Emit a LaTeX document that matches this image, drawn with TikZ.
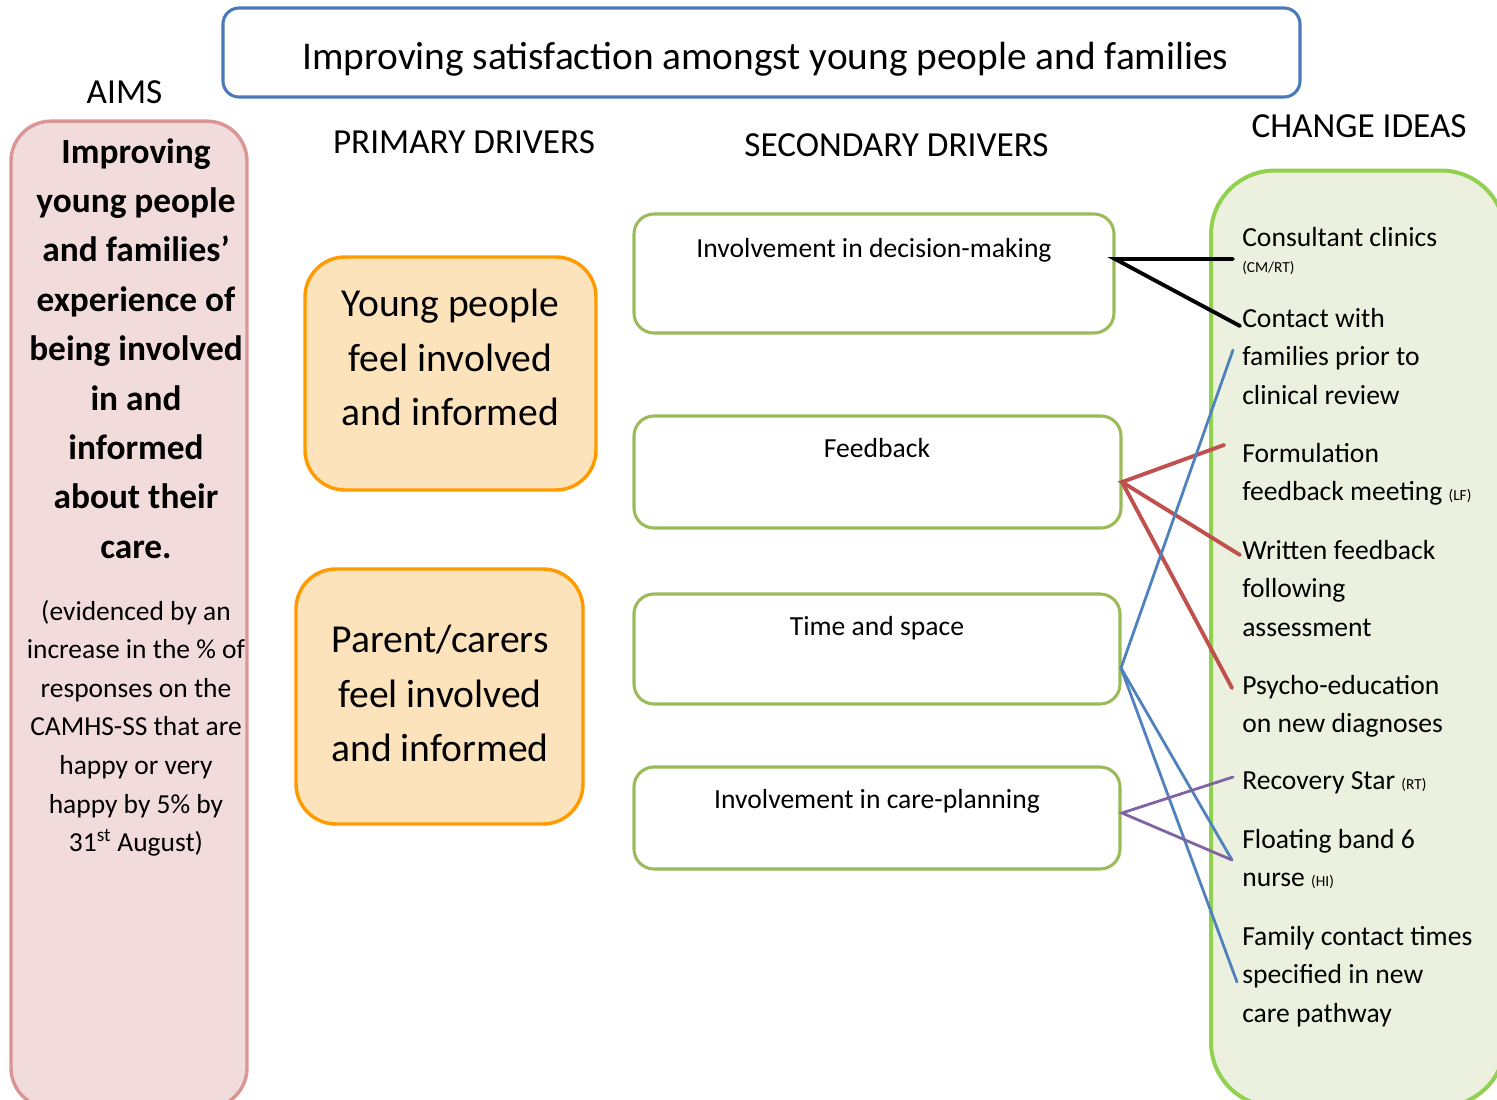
\documentclass[tikz,border=0pt]{standalone}
\usepackage{fontspec}
\setmainfont{Carlito}
\definecolor{topblue}{HTML}{4A78B8}
\definecolor{aimfill}{HTML}{F2DCDB}
\definecolor{aimline}{HTML}{D99694}
\definecolor{pdfill}{HTML}{FDE3BB}
\definecolor{pdline}{HTML}{FF9A00}
\definecolor{sdline}{HTML}{9BBB59}
\definecolor{cifill}{HTML}{EBF1DE}
\definecolor{ciline}{HTML}{92D050}
\definecolor{linkred}{HTML}{C0504D}
\definecolor{linkblue}{HTML}{4F81BD}
\definecolor{linkpurple}{HTML}{8064A2}
\newcommand{\fsz}[2]{\fontsize{#1}{#2}\selectfont}
\newcommand{\initials}[1]{{\fsz{11.5}{13}#1}}
\begin{document}
\begin{tikzpicture}[x=0.75pt,y=-0.75pt,
  titlebox/.style={draw=topblue,line width=2.3pt,rounded corners=12pt,fill=white,
    minimum width=807.75pt,minimum height=66.75pt,inner sep=0pt},
  aimbox/.style={draw=aimline,fill=aimfill,line width=2.6pt,rounded corners=30pt,
    minimum width=177pt,minimum height=740pt,inner sep=0pt},
  pdbox/.style={draw=pdline,fill=pdfill,line width=2.6pt,rounded corners=30pt,inner sep=0pt},
  pdtext/.style={inner sep=0pt,align=center,font=\fsz{29.7}{41}},
  sdbox/.style={draw=sdline,fill=white,line width=2.3pt,rounded corners=15pt,inner sep=0pt},
  cibox/.style={draw=ciline,fill=cifill,line width=3pt,rounded corners=48pt,inner sep=0pt,
    minimum width=220.5pt,minimum height=702pt},
  header/.style={font=\fsz{26.4}{30},inner sep=0pt},
  sdtext/.style={font=\fsz{20.7}{24},inner sep=0pt,anchor=mid},
  idea/.style={font=\fsz{20.7}{28.9},inner sep=0pt,align=left,anchor=north west},
  link/.style={line width=2.9pt,line cap=round},
  thinlink/.style={line width=2.1pt,line cap=round}]

\clip (0,0) rectangle (1497,1100);

% overall aim banner
\node[titlebox] (title) at (761.5,52.5) {};
\node[font=\fsz{29.5}{34},inner sep=0pt] (titleText) at (765.5,59) {Improving satisfaction amongst young people and families};

% column headings
\node[header] (hAims) at (124.5,92) {AIMS};
\node[header] (hPrim) at (464,142) {PRIMARY DRIVERS};
\node[header] (hSec) at (896.5,145) {SECONDARY DRIVERS};
\node[header] (hIdeas) at (1359,126) {CHANGE IDEAS};

% aim
\node[aimbox] (aim) at (129,614.5) {};
\node[font=\fsz{26.5}{37.05}\bfseries,align=center,inner sep=0pt,anchor=north] (aimText) at (136,138)
  {Improving\\young people\\and families’\\experience of\\being involved\\in and\\informed\\about their\\care.};
\node[font=\fsz{20.6}{28.9},align=center,inner sep=0pt,anchor=north] (aimMeasure) at (136,600)
  {(evidenced by an\\increase in the \% of\\responses on the\\CAMHS-SS that are\\happy or very\\happy by 5\% by\\31\textsuperscript{st} August)};

% primary drivers
\node[pdbox,minimum width=218.25pt,minimum height=174.75pt] (pd1) at (450.5,373.5) {};
\node[pdbox,minimum width=215.25pt,minimum height=191.25pt] (pd2) at (439.5,696.5) {};
\node[pdtext] (pd1t) at (450.5,357.5) {Young people\\feel involved\\and informed};
\node[pdtext] (pd2t) at (440,693.5) {Parent/carers\\feel involved\\and informed};

% secondary drivers
\node[sdbox,minimum width=360pt,minimum height=89.25pt] (sd1) at (874,273.5) {};
\node[sdbox,minimum width=365.25pt,minimum height=84pt] (sd2) at (877.5,472) {};
\node[sdbox,minimum width=364.5pt,minimum height=82.5pt] (sd3) at (877,649) {};
\node[sdbox,minimum width=364.5pt,minimum height=76.5pt] (sd4) at (877,818) {};
\node[sdtext] (sd1t) at (874,254) {Involvement in decision-making};
\node[sdtext] (sd2t) at (877,454) {Feedback};
\node[sdtext] (sd3t) at (877,632) {Time and space};
\node[sdtext] (sd4t) at (877,805) {Involvement in care-planning};

% change ideas
\node[cibox] (ci) at (1358,638.5) {};
\node[idea] (ci1) at (1242,227) {Consultant clinics\\[-9pt]\initials{(CM/RT)}};
\node[idea] (ci2) at (1242,308) {Contact with\\families prior to\\clinical review};
\node[idea] (ci3) at (1242,443) {Formulation\\feedback meeting \initials{(LF)}};
\node[idea] (ci4) at (1242,540) {Written feedback\\following\\assessment};
\node[idea] (ci5) at (1242,675) {Psycho-education\\on new diagnoses};
\node[idea] (ci6) at (1242,771) {Recovery Star \initials{(RT)}};
\node[idea] (ci7) at (1242,829) {Floating band 6\\nurse \initials{(HI)}};
\node[idea] (ci8) at (1242,926) {Family contact times\\specified in new\\care pathway};

% link ends
\coordinate (s1) at (1115,259);
\coordinate (s2) at (1122,482);
\coordinate (s3) at (1121,668);
\coordinate (s4) at (1122,813);
\coordinate (e1) at (1233,259);
\coordinate (e2) at (1240,326);
\coordinate (e2b) at (1233,350);
\coordinate (e3) at (1224,445);
\coordinate (e4) at (1240,555);
\coordinate (e5) at (1232,688);
\coordinate (e6) at (1233,777);
\coordinate (e7) at (1232,860);
\coordinate (e8) at (1237,982);

% links from secondary drivers to change ideas
\draw[link,black] (e1) -- (s1) -- (e2);
\draw[link,linkred] (e3) -- (s2) -- (e4);
\draw[link,linkred] (s2) -- (e5);
\draw[thinlink,linkblue] (e2b) -- (s3) -- (e7);
\draw[thinlink,linkblue] (s3) -- (e8);
\draw[thinlink,linkpurple] (e6) -- (s4) -- (e7);
\end{tikzpicture}
\end{document}
